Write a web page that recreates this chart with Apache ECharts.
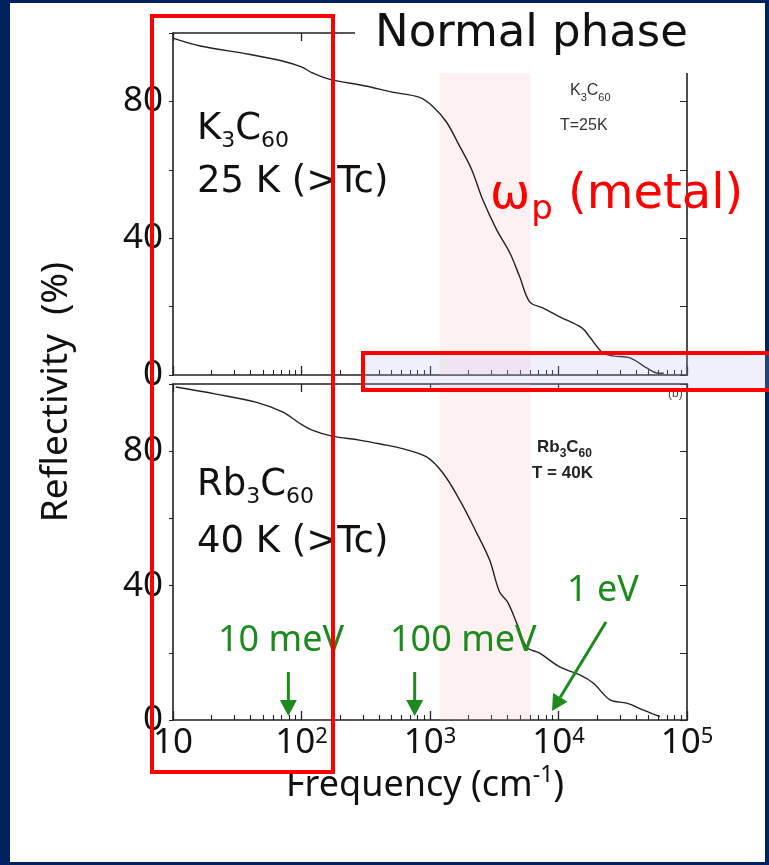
<!DOCTYPE html>
<html><head><meta charset="utf-8">
<script src="https://cdn.jsdelivr.net/npm/echarts@6/dist/echarts.min.js"></script>
<style>
html,body{margin:0;padding:0;background:#002060;width:769px;height:865px;overflow:hidden}
#panel{position:absolute;left:10px;top:3px;width:755px;height:859px;background:#fff}
#chart{position:absolute;left:0;top:0;width:769px;height:865px}
</style></head><body><div id="panel"></div><div id="chart"></div>
<script>
// ---- data ----
const k3Freq = [10, 16.3, 39, 71, 101, 122, 164, 316, 510, 828, 1047, 1346, 1700, 2108, 2570, 3297, 4170, 4990, 5970, 7540, 10230, 15200, 17500, 22100, 26500, 36000, 48800, 58300, 66000];
const k3R    = [98.5, 96.2, 93.8, 91.8, 90, 88.3, 86.5, 84.5, 82.7, 81.2, 78.6, 73.9, 66.9, 60.1, 51.3, 42.5, 35.8, 28.7, 21.4, 19.6, 17, 13.8, 11.1, 6.5, 5.6, 5, 2, 0.6, 0.5];
const rbFreq = [10.5, 21.6, 44, 71, 96, 121, 173, 282, 457, 578, 940, 1260, 1700, 2307, 2910, 3480, 4020, 4720, 5650, 7140, 10230, 14660, 18600, 25200, 34000, 45400, 61600];
const rbR    = [99.1, 97, 94.6, 91.7, 88.4, 86.3, 84.5, 83.3, 81.8, 81, 78.3, 73.5, 65.5, 55.7, 47.6, 38.1, 35.1, 28.9, 21.7, 19.9, 15.8, 13.4, 11, 6, 5, 3, 1];
const xTicks = [10, 100, 1000, 10000, 100000];
const xTickLabels = ['10', '10{sup|2}', '10{sup|3}', '10{sup|4}', '10{sup|5}'];
const yTickLabels = [0, 40, 80];
const minorTickFreq = [20,30,40,50,60,70,80,90,200,300,400,500,600,700,800,900,2000,3000,4000,5000,6000,7000,8000,9000,20000,30000,40000,50000,60000,70000,80000,90000];
const plasmaBand = [1190, 6080];
const energyLabels = ['10 meV', '100 meV', '1 eV'];
const energyFreq = [79, 760, 8900];

const AX = '#222';
const TICKFONT = 'Noto Sans';
function zip(a,b){ return a.map((v,i)=>[v,b[i]]); }

const grids = [
  {left:173, top:33, width:514, height:342},
  {left:173, top:384, width:514, height:336}
];
const xAxes = [], yAxes = [];
grids.forEach((g, gi) => {
  xAxes.push({type:'log', logBase:10, min:10, max:100000, gridIndex:gi, position:'bottom',
    axisLine:{lineStyle:{color:AX, width:1.6}}, axisTick:{inside:true, length:9, lineStyle:{color:AX, width:1.3}},
    splitLine:{show:false},
    axisLabel: gi===1 ? {show:true, margin:6, color:'#111', fontFamily:TICKFONT, fontSize:35,
      formatter: v => { const i = xTicks.findIndex(t => Math.abs(t-v)/t < 1e-6); return i>=0 ? xTickLabels[i] : ''; },
      rich:{sup:{fontFamily:TICKFONT, fontSize:22, lineHeight:22, verticalAlign:'top', color:'#111'}}} : {show:false}
  });
  xAxes.push({type:'value', min:1, max:5, gridIndex:gi, position:'bottom',
    axisLine:{show:false}, splitLine:{show:false}, axisLabel:{show:false},
    axisTick:{show:true, inside:true, length:5, lineStyle:{color:AX, width:1.1}, customValues: minorTickFreq.map(f=>Math.log10(f))}
  });
  xAxes.push({type:'log', logBase:10, min:10, max:100000, gridIndex:gi, position:'top',
    axisLine:{lineStyle:{color:AX, width:1.6}}, axisTick:{inside:true, length:8, lineStyle:{color:AX, width:1.3}},
    splitLine:{show:false}, axisLabel:{show:false}
  });
  yAxes.push({type:'value', min:0, max:100, interval:20, gridIndex:gi, position:'left',
    axisLine:{show:true, lineStyle:{color:AX, width:1.6}}, axisTick:{show:true, inside:false, length:4, lineStyle:{color:AX}},
    splitLine:{show:false},
    axisLabel:{margin:10, color:'#111', fontFamily:TICKFONT, fontSize:35, formatter: v => yTickLabels.includes(v) ? String(v) : ''}
  });
  yAxes.push({type:'value', min:0, max:100, interval:20, gridIndex:gi, position:'right',
    axisLine:{show:true, lineStyle:{color:AX, width:1.6}}, axisTick:{show:true, inside:true, length:7, lineStyle:{color:AX}},
    splitLine:{show:false}, axisLabel:{show:false}
  });
});

const band = {silent:true, itemStyle:{color:'rgba(250,185,185,0.2)'}, data:[[{xAxis:plasmaBand[0]},{xAxis:plasmaBand[1]}]]};
const option = {
  animation:false,
  backgroundColor:'transparent',
  grid: grids,
  xAxis: xAxes,
  yAxis: yAxes,
  series: [
    {type:'line', xAxisIndex:0, yAxisIndex:0, data: zip(k3Freq,k3R), showSymbol:false, smooth:0.35,
      lineStyle:{color:'#222', width:1.4}, markArea: band, z:3},
    {type:'line', xAxisIndex:3, yAxisIndex:2, data: zip(rbFreq,rbR), showSymbol:false, smooth:0.35,
      lineStyle:{color:'#222', width:1.4}, markArea: band, z:3}
  ]
};
const chart = echarts.init(document.getElementById('chart'), null, {renderer:'canvas'});
chart.setOption(option);

function arrow(x1,y1,x2,y2,color){
  const ang = Math.atan2(y2-y1,x2-x1), hl=16, hw=8.5;
  const bx = x2 - hl*Math.cos(ang), by = y2 - hl*Math.sin(ang);
  const px = -Math.sin(ang), py = Math.cos(ang);
  return [
    {type:'line', shape:{x1:x1,y1:y1,x2:bx,y2:by}, style:{stroke:color, lineWidth:3}, z:60},
    {type:'polygon', shape:{points:[[x2,y2],[bx+px*hw,by+py*hw],[bx-px*hw,by-py*hw]]}, style:{fill:color}, z:60}
  ];
}
const GREEN = '#1c8a1c';
const DJ = 'DejaVu Sans';
const LS = 'Liberation Sans';
const tips = energyFreq.map(f => chart.convertToPixel({xAxisIndex:3}, f));
const bigRich = (c) => ({
  m:{fontFamily:DJ, fontSize:37, lineHeight:40, verticalAlign:'top', fill:c},
  s:{fontFamily:DJ, fontSize:22, lineHeight:22, padding:[19,0,0,0], verticalAlign:'top', fill:c}});
const smallRich = (fs, w, c) => ({
  m:{fontFamily:LS, fontSize:fs, fontWeight:w, lineHeight:fs+2, verticalAlign:'top', fill:c},
  s:{fontFamily:LS, fontSize:Math.round(fs*0.7), fontWeight:w, lineHeight:Math.round(fs*0.7), padding:[Math.round(fs*0.55),0,0,0], verticalAlign:'top', fill:c}});
const g = [];
// white cover behind "Normal phase"
g.push({type:'rect', shape:{x:355, y:3, width:410, height:70}, style:{fill:'#fff'}, z:40});
g.push({type:'text', x:375, y:34, style:{text:'Normal phase', font:'45px "DejaVu Sans"', fill:'#111', verticalAlign:'middle'}, z:41});
// sample labels
g.push({type:'text', x:197, y:131, style:{text:'{m|K}{s|3}{m|C}{s|60}', verticalAlign:'middle', rich:bigRich('#111')}, z:41});
g.push({type:'text', x:197, y:182, style:{text:'25 K (>Tc)', font:'37px "DejaVu Sans"', fill:'#111', verticalAlign:'middle'}, z:41});
g.push({type:'text', x:197, y:487, style:{text:'{m|Rb}{s|3}{m|C}{s|60}', verticalAlign:'middle', rich:bigRich('#111')}, z:41});
g.push({type:'text', x:197, y:542, style:{text:'40 K (>Tc)', font:'37px "DejaVu Sans"', fill:'#111', verticalAlign:'middle'}, z:41});
// omega_p
g.push({type:'text', x:490, y:199, style:{text:'{m|ω}{s|p}{m| (metal)}', verticalAlign:'middle', rich:{
  m:{fontFamily:DJ, fontSize:48, lineHeight:54, verticalAlign:'top', fill:'#ff0000'},
  s:{fontFamily:DJ, fontSize:34, lineHeight:36, padding:[21,0,0,1], verticalAlign:'top', fill:'#ff0000'}}}, z:41});
// small scanned labels
g.push({type:'text', x:570, y:92, style:{text:'{m|K}{s|3}{m|C}{s|60}', verticalAlign:'middle', rich:smallRich(16,'normal','#333')}, z:41});
g.push({type:'text', x:560, y:126, style:{text:'T=25K', font:'16px "Liberation Sans"', fill:'#333', verticalAlign:'middle'}, z:41});
g.push({type:'text', x:537, y:448, style:{text:'{m|Rb}{s|3}{m|C}{s|60}', verticalAlign:'middle', rich:smallRich(17,'bold','#222')}, z:41});
g.push({type:'text', x:532, y:473, style:{text:'T = 40K', font:'bold 17px "Liberation Sans"', fill:'#222', verticalAlign:'middle'}, z:41});
g.push({type:'text', x:668, y:394, style:{text:'(b)', font:'12px "Liberation Sans"', fill:'#444', verticalAlign:'middle'}, z:41});
// axis names
g.push({type:'text', x:56, y:392, rotation:Math.PI/2, style:{text:'Reflectivity  (%)', font:'37px "Noto Sans"', fill:'#111', align:'center', verticalAlign:'middle'}, z:41});
g.push({type:'text', x:425, y:784, style:{text:'{m|Frequency (cm}{sup|-1}{m|)}', align:'center', verticalAlign:'middle', rich:{
  m:{fontFamily:'Noto Sans', fontSize:36, lineHeight:40, verticalAlign:'bottom', fill:'#111'},
  sup:{fontFamily:'Noto Sans', fontSize:23, lineHeight:23, verticalAlign:'top', fill:'#111'}}}, z:41});
// white ")" at left edge
g.push({type:'text', x:-10, y:480, style:{text:')', font:'36px "Noto Sans"', fill:'#fff', verticalAlign:'middle'}, z:41});
// energy labels + arrows
g.push({type:'text', x:218, y:641, style:{text:energyLabels[0], font:'36px "Noto Sans"', fill:GREEN, verticalAlign:'middle'}, z:61});
g.push({type:'text', x:390, y:641, style:{text:energyLabels[1], font:'36px "Noto Sans"', fill:GREEN, verticalAlign:'middle'}, z:61});
g.push({type:'text', x:567, y:591, style:{text:energyLabels[2], font:'36px "Noto Sans"', fill:GREEN, verticalAlign:'middle'}, z:61});
arrow(tips[0], 672, tips[0], 716, GREEN).forEach(e=>g.push(e));
arrow(tips[1], 672, tips[1], 716, GREEN).forEach(e=>g.push(e));
arrow(tips[2]+54, 622, tips[2], 711, GREEN).forEach(e=>g.push(e));
// red highlight boxes
g.push({type:'rect', shape:{x:152, y:16, width:181, height:756}, style:{fill:'none', stroke:'#ff0000', lineWidth:4}, z:70});
g.push({type:'rect', shape:{x:363, y:353, width:420, height:37}, style:{fill:'rgba(180,185,240,0.22)', stroke:'#ff0000', lineWidth:4}, z:70});
chart.setOption({graphic:{elements:g}});
</script></body></html>
